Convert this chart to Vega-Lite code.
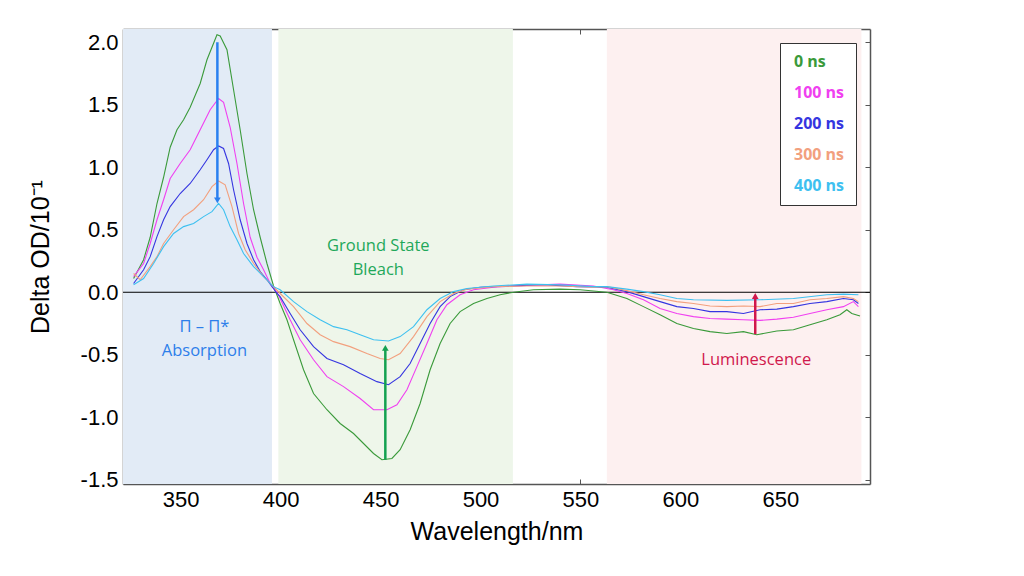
{
  "$schema": "https://vega.github.io/schema/vega-lite/v6.json",
  "width": 747,
  "height": 455,
  "autosize": {"type": "none"},
  "padding": {"left": 123, "top": 29, "right": 154, "bottom": 92},
  "background": "white",
  "config": {
    "view": {"stroke": null},
    "axis": {
      "grid": false,
      "labelFont": "Liberation Sans",
      "labelFontSize": 22,
      "labelColor": "#000",
      "titleFont": "Liberation Sans",
      "titleFontSize": 25,
      "titleFontWeight": "normal",
      "titleColor": "#000",
      "domainColor": "#555",
      "domainWidth": 1.5,
      "tickColor": "#555",
      "tickSize": -5,
      "tickWidth": 1
    }
  },
  "datasets": {
    "bands": [
      {"start": 321.2, "end": 395.7, "col": "#E2EBF6"},
      {"start": 398.9, "end": 516.2, "col": "#EEF6EA"},
      {"start": 563.2, "end": 690.5, "col": "#FDF0F0"}
    ],
    "spectra": [
      {"s": "0 ns",
       "x": [326.5,331.5,334.8,338.2,341.5,344.8,348.2,351.5,354.8,359.8,363.2,368.2,369.8,373.2,376.5,379.8,383.2,386.5,389.8,393.2,396.5,399.8,403.2,406.5,411.5,416.5,423.2,429.8,436.5,441.5,446.5,450.7,455.7,459.8,464.8,469.8,474.8,479.8,484.8,489.8,496.5,503.2,509.8,516.5,526.5,539.8,549.8,563.2,573.2,581.5,589.8,598.2,606.5,614.8,623.2,631.5,638.2,648.2,656.5,664.8,673.2,679.8,683.2,685.7,689.8],
       "y": [0.11,0.26,0.44,0.71,0.92,1.16,1.30,1.38,1.48,1.67,1.86,2.06,2.05,1.94,1.62,1.30,0.95,0.66,0.44,0.23,0.05,-0.09,-0.22,-0.38,-0.62,-0.81,-0.94,-1.05,-1.13,-1.21,-1.29,-1.34,-1.33,-1.26,-1.10,-0.89,-0.62,-0.41,-0.25,-0.155,-0.09,-0.05,-0.02,0.0,0.02,0.025,0.02,0.0,-0.05,-0.115,-0.18,-0.25,-0.29,-0.315,-0.33,-0.315,-0.34,-0.31,-0.30,-0.26,-0.22,-0.18,-0.14,-0.17,-0.19]},
      {"s": "100 ns",
       "x": [326.5,331.5,334.8,338.2,341.5,344.8,349.8,354.8,359.8,364.8,369.0,371.5,374.8,378.2,381.5,384.8,388.2,391.5,394.8,398.2,399.8,404.8,409.8,416.5,423.2,431.5,439.8,446.5,453.2,458.2,463.2,468.2,473.2,478.2,483.2,489.8,496.5,506.5,523.2,539.8,556.5,566.5,573.2,581.5,589.8,598.2,606.5,614.8,623.2,631.5,639.8,648.2,656.5,664.8,673.2,681.5,686.5,689.0],
       "y": [0.125,0.23,0.39,0.58,0.74,0.91,1.03,1.14,1.30,1.46,1.55,1.52,1.32,1.03,0.71,0.44,0.28,0.18,0.07,0.0,-0.05,-0.22,-0.38,-0.54,-0.675,-0.755,-0.85,-0.94,-0.94,-0.90,-0.78,-0.595,-0.41,-0.22,-0.10,-0.02,0.02,0.04,0.055,0.065,0.05,0.02,-0.01,-0.06,-0.13,-0.17,-0.195,-0.21,-0.215,-0.22,-0.225,-0.215,-0.20,-0.17,-0.14,-0.115,-0.075,-0.115]},
      {"s": "200 ns",
       "x": [326.5,331.5,334.8,338.2,341.5,344.8,349.8,354.8,359.8,363.2,366.5,369.0,371.5,374.0,376.5,379.8,383.2,386.5,389.8,393.2,398.2,399.8,404.8,409.8,416.5,423.2,431.5,439.8,448.2,454.0,459.8,464.8,469.8,474.8,479.8,484.8,491.5,499.8,514.8,531.5,548.2,563.2,573.2,581.5,589.8,598.2,606.5,614.8,623.2,631.5,639.8,648.2,656.5,664.8,673.2,681.5,686.5,689.0],
       "y": [0.07,0.18,0.285,0.445,0.58,0.685,0.79,0.87,0.98,1.06,1.14,1.17,1.15,1.03,0.82,0.58,0.39,0.26,0.165,0.10,-0.01,-0.035,-0.17,-0.30,-0.435,-0.53,-0.58,-0.65,-0.715,-0.74,-0.675,-0.57,-0.41,-0.25,-0.115,-0.035,0.02,0.04,0.05,0.06,0.045,0.04,0.005,-0.035,-0.075,-0.115,-0.13,-0.155,-0.155,-0.17,-0.14,-0.135,-0.115,-0.09,-0.075,-0.05,-0.06,-0.09]},
      {"s": "300 ns",
       "x": [326.5,329.8,334.8,338.2,341.5,346.5,351.5,356.5,361.5,365.7,369.0,372.3,375.7,379.0,382.3,386.5,391.5,396.5,399.8,406.5,413.2,419.8,426.5,434.8,443.2,449.8,454.0,459.8,466.5,473.2,479.8,486.5,493.2,506.5,523.2,539.8,556.5,563.2,573.2,581.5,589.8,598.2,606.5,614.8,623.2,631.5,639.8,648.2,656.5,664.8,673.2,681.5,686.5,689.0],
       "y": [0.15,0.10,0.205,0.285,0.39,0.50,0.605,0.66,0.74,0.845,0.89,0.86,0.685,0.47,0.34,0.23,0.125,0.045,-0.01,-0.115,-0.25,-0.34,-0.395,-0.435,-0.49,-0.53,-0.54,-0.49,-0.355,-0.195,-0.075,-0.01,0.025,0.045,0.05,0.05,0.04,0.045,0.013,-0.02,-0.05,-0.075,-0.09,-0.11,-0.115,-0.11,-0.115,-0.09,-0.09,-0.06,-0.05,-0.035,-0.05,-0.075]},
      {"s": "400 ns",
       "x": [326.5,331.5,336.5,341.5,346.5,351.5,356.5,361.5,365.7,369.0,371.5,374.8,378.2,381.5,386.5,391.5,396.5,399.8,406.5,413.2,419.8,426.5,433.2,439.8,446.5,454.0,459.8,466.5,473.2,479.8,486.5,493.2,506.5,523.2,539.8,556.5,563.2,573.2,581.5,589.8,598.2,606.5,623.2,639.8,656.5,673.2,681.5,689.0],
       "y": [0.06,0.11,0.23,0.365,0.47,0.525,0.55,0.605,0.645,0.71,0.66,0.525,0.42,0.31,0.205,0.125,0.045,0.02,-0.075,-0.155,-0.22,-0.275,-0.30,-0.34,-0.38,-0.39,-0.355,-0.275,-0.14,-0.05,0.005,0.03,0.05,0.065,0.06,0.045,0.045,0.025,0.005,-0.02,-0.05,-0.06,-0.065,-0.06,-0.05,-0.02,-0.015,-0.02]}
    ],
    "arrows": [
      {"x": 368.4, "from": 2.0, "to": 0.74, "tip": 0.735, "shape": "triangle-down", "col": "#2A80F0"},
      {"x": 452.4, "from": -1.34, "to": -0.45, "tip": -0.445, "shape": "triangle-up", "col": "#13A150"},
      {"x": 637.4, "from": -0.335, "to": -0.035, "tip": -0.03, "shape": "triangle-up", "col": "#D0184C"}
    ],
    "notes": [
      {"x": 361.9, "y": -0.275, "t": "Π – Π*", "col": "#2D7EEA"},
      {"x": 361.9, "y": -0.467, "t": "Absorption", "col": "#2D7EEA"},
      {"x": 448.9, "y": 0.37, "t": "Ground State", "col": "#1FA85A"},
      {"x": 448.9, "y": 0.18, "t": "Bleach", "col": "#1FA85A"},
      {"x": 637.9, "y": -0.54, "t": "Luminescence", "col": "#D0184C"}
    ]
  },
  "resolve": {"axis": {"x": "independent", "y": "independent"}},
  "layer": [
    {
      "data": {"name": "bands"},
      "mark": {"type": "rect", "clip": true},
      "encoding": {
        "x": {"field": "start", "type": "quantitative", "scale": {"domain": [321.2, 694.8], "nice": false, "zero": false},
              "axis": {"orient": "top", "labels": false, "title": null, "values": [350, 400, 450, 500, 550, 600, 650]}},
        "x2": {"field": "end"},
        "fill": {"field": "col", "type": "nominal", "scale": null, "legend": null}
      }
    },
    {
      "data": {"values": [{}]},
      "mark": {"type": "rule", "color": "#000", "strokeWidth": 1},
      "encoding": {
        "y": {"datum": 0, "type": "quantitative", "scale": {"domain": [-1.534, 2.106], "nice": false, "zero": false},
              "axis": {"orient": "right", "labels": false, "title": null, "values": [-1.5, -1.0, -0.5, 0, 0.5, 1.0, 1.5, 2.0]}}
      }
    },
    {
      "data": {"name": "spectra"},
      "transform": [{"flatten": ["x", "y"]}],
      "mark": {"type": "line", "strokeWidth": 1.1, "clip": true},
      "encoding": {
        "x": {"field": "x", "type": "quantitative", "scale": {"domain": [321.2, 694.8], "nice": false, "zero": false},
              "axis": {"orient": "bottom", "title": "Wavelength/nm", "values": [350, 400, 450, 500, 550, 600, 650], "labelPadding": 10, "titlePadding": 9}},
        "y": {"field": "y", "type": "quantitative", "scale": {"domain": [-1.534, 2.106], "nice": false, "zero": false},
              "axis": {"orient": "left", "title": "Delta OD/10⁻¹", "values": [-1.5, -1.0, -0.5, 0, 0.5, 1.0, 1.5, 2.0],
                       "labelExpr": "datum.value < 0 ? '-' + format(-datum.value, '.1f') : format(datum.value, '.1f')",
                       "labelPadding": 10, "titlePadding": 27}},
        "color": {"field": "s", "type": "nominal",
                  "scale": {"domain": ["0 ns", "100 ns", "200 ns", "300 ns", "400 ns"], "range": ["#3A9A3A", "#F040F0", "#3535E0", "#F2A07E", "#3EC0F0"]},
                  "legend": {"title": null, "orient": "top-right", "offset": 14, "fillColor": "white", "strokeColor": "#333", "padding": 11,
                             "symbolSize": 0, "symbolOpacity": 0, "symbolStrokeWidth": 0, "labelOffset": -13,
                             "labelFont": "Open Sans", "labelFontSize": 16, "labelFontWeight": "bold", "rowPadding": 15,
                             "encode": {"labels": {"update": {"fill": {"scale": "color", "field": "value"}}}}}}
      }
    },
    {
      "data": {"name": "arrows"},
      "mark": {"type": "rule", "strokeWidth": 2.5},
      "encoding": {
        "x": {"field": "x", "type": "quantitative", "axis": null},
        "y": {"field": "from", "type": "quantitative", "axis": null},
        "y2": {"field": "to"},
        "stroke": {"field": "col", "type": "nominal", "scale": null, "legend": null}
      }
    },
    {
      "data": {"name": "arrows"},
      "mark": {"type": "point", "filled": true, "opacity": 1, "size": 45},
      "encoding": {
        "x": {"field": "x", "type": "quantitative", "axis": null},
        "y": {"field": "tip", "type": "quantitative", "axis": null},
        "shape": {"field": "shape", "type": "nominal", "scale": null, "legend": null},
        "fill": {"field": "col", "type": "nominal", "scale": null, "legend": null}
      }
    },
    {
      "data": {"name": "notes"},
      "mark": {"type": "text", "font": "Open Sans", "fontSize": 16.5, "align": "center", "baseline": "middle"},
      "encoding": {
        "x": {"field": "x", "type": "quantitative", "axis": null},
        "y": {"field": "y", "type": "quantitative", "axis": null},
        "text": {"field": "t"},
        "fill": {"field": "col", "type": "nominal", "scale": null, "legend": null}
      }
    }
  ]
}
